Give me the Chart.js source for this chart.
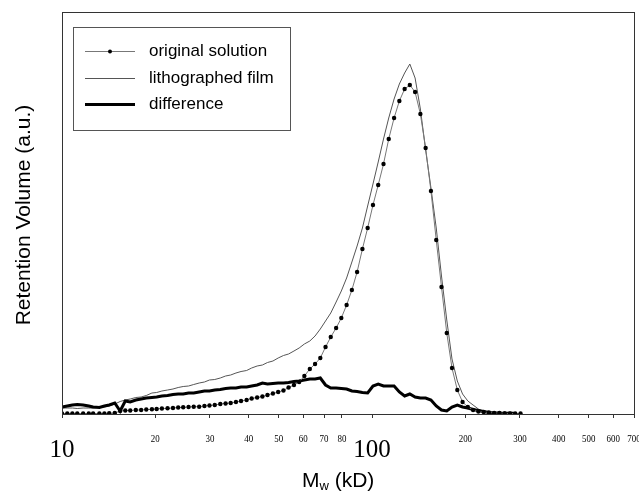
<!DOCTYPE html>
<html>
<head>
<meta charset="utf-8">
<script src="https://cdn.jsdelivr.net/npm/chart.js@4.4.1/dist/chart.umd.min.js"></script>
<style>
  html, body { margin: 0; padding: 0; background: #fff; }
  canvas { display: block; }
</style>
</head>
<body>
<canvas id="gpc" width="639" height="492"></canvas>
<script>
// molecular weight grid (kD)
const mw = [10.0, 10.4, 10.8, 11.2, 11.7, 12.2, 12.6, 13.2, 13.7, 14.2,
    14.8, 15.4, 16.0, 16.6, 17.3, 18.0, 18.7, 19.5, 20.2, 21.0,
    21.9, 22.8, 23.7, 24.6, 25.6, 26.6, 27.7, 28.8, 29.9, 31.1,
    32.4, 33.7, 35.0, 36.4, 37.8, 39.4, 40.9, 42.6, 44.3, 46.0,
    47.9, 49.8, 51.8, 53.8, 56.0, 58.2, 60.5, 63.0, 65.5, 68.1,
    70.8, 73.6, 76.6, 79.6, 82.8, 86.1, 89.5, 93.1, 96.8, 100.7,
    104.7, 108.9, 113.2, 117.8, 122.5, 127.4, 132.4, 137.7, 143.2, 148.9,
    154.9, 161.1, 167.5, 174.2, 181.1, 188.4, 195.9, 203.7, 211.8, 220.3,
    229.1, 238.2, 247.7, 257.6, 267.9, 278.6, 289.7, 301.3];

// retention volume (a.u.)
const originalSolution = [0.5, 0.5, 0.5, 0.5, 0.5, 0.5, 0.5, 0.5, 0.5, 0.7,
    1, 3, 3.5, 3.5, 4, 4, 4.5, 4.7, 5, 5.5,
    5.7, 6, 6.5, 6.7, 7, 7.3, 7.3, 8, 8.5, 9,
    10, 10.5, 11, 12, 13, 14, 15.5, 16.5, 17.5, 19,
    20.5, 22, 23.5, 26.5, 29, 32, 38, 45, 50, 56,
    67, 77, 86, 96, 109, 124, 142, 165, 186, 209,
    229, 250, 275, 296, 313, 325, 329, 322, 300, 266,
    223, 174, 127, 81, 46, 24, 12, 7, 4, 2.5,
    2, 1.5, 1, 1, 0.7, 0.5, 0.5, 0.5];

const lithographedFilm = [6, 6, 6, 5.5, 6, 6, 6, 6.5, 7, 8,
    10, 12.5, 14, 15, 16.5, 17, 18.5, 21, 21.5, 23,
    24, 25, 26.5, 27.5, 28, 29.5, 31, 32, 34, 34.5,
    36, 38, 39, 41, 42.5, 43.5, 46, 48, 49, 51.5,
    53, 56, 58.5, 60, 63, 66, 70, 73, 78, 85,
    93, 101, 112, 123, 136, 152, 168, 186, 208, 230,
    252, 275, 296, 315, 330, 341, 350, 336, 305, 264,
    226, 186, 138, 94, 55, 33, 20, 13, 9, 5,
    2.5, 1, 0.5];

const difference = [7, 8, 9, 9.5, 9, 8, 7, 6.5, 8, 9,
    11, 3, 13, 12, 14, 15, 16, 16.5, 17, 18,
    18.5, 19.5, 20, 20, 21, 21, 22, 23, 23, 24,
    24.5, 25.5, 26, 26, 27, 27, 28, 29, 31, 30,
    30.5, 31, 31, 31.5, 32.5, 33, 34, 35, 35, 36,
    29, 26, 26, 25.5, 25, 23, 22.5, 21.5, 21, 28,
    30, 28, 28, 28, 22, 18, 20, 17, 16, 16,
    14, 8, 4, 3, 7, 9, 7, 6, 4.5, 3.5,
    2.5, 1.5, 1, 1, 0.5, 1, 0.5];

const tickValues = [10, 20, 30, 40, 50, 60, 70, 80, 100, 200, 300, 400, 500, 600, 700];
const bigTicks = [10, 100];
const seriesNames = ['original solution', 'lithographed film', 'difference'];

function toPoints(values) {
    return values.map((v, i) => ({ x: mw[i], y: v }));
}

const overlay = {
    id: 'overlay',
    afterDraw(chart) {
        const ctx = chart.ctx;
        const a = chart.chartArea;
        const x = chart.scales.x;
        ctx.save();

        // plot frame
        ctx.strokeStyle = '#333';
        ctx.lineWidth = 1;
        ctx.strokeRect(a.left + 0.5, a.top + 0.5, a.right - a.left - 1, a.bottom - a.top);

        // tick labels
        ctx.fillStyle = '#000';
        ctx.textAlign = 'center';
        ctx.textBaseline = 'alphabetic';
        tickValues.forEach(v => {
            const px = x.getPixelForValue(v);
            if (bigTicks.includes(v)) {
                ctx.font = '25px "Liberation Serif"';
                ctx.fillText(String(v), px, a.bottom + 43);
            } else {
                ctx.save();
                ctx.translate(px, a.bottom + 28);
                ctx.scale(0.85, 1);
                ctx.font = '10.5px "Liberation Serif"';
                ctx.fillText(String(v), 0, 0);
                ctx.restore();
            }
        });

        // x title with subscript
        ctx.textAlign = 'left';
        ctx.font = '21px "Liberation Sans"';
        let tx = 302;
        const ty = 487;
        ctx.fillText('M', tx, ty);
        tx += ctx.measureText('M').width;
        ctx.font = '13px "Liberation Sans"';
        ctx.fillText('w', tx, ty + 3);
        tx += ctx.measureText('w').width;
        ctx.font = '21px "Liberation Sans"';
        ctx.fillText(' (kD)', tx, ty);

        // y title
        ctx.save();
        ctx.translate(30, (a.top + a.bottom) / 2 + 2);
        ctx.rotate(-Math.PI / 2);
        ctx.textAlign = 'center';
        ctx.font = '21px "Liberation Sans"';
        ctx.fillText('Retention Volume (a.u.)', 0, 0);
        ctx.restore();

        // legend box
        const lx = a.left + 11, ly = a.top + 15;
        ctx.fillStyle = '#fff';
        ctx.fillRect(lx, ly, 217, 103);
        ctx.strokeStyle = '#555';
        ctx.lineWidth = 1;
        ctx.strokeRect(lx + 0.5, ly + 0.5, 217, 103);
        const rows = [ly + 24, ly + 51, ly + 77];
        ctx.font = '17px "Liberation Sans"';
        ctx.textBaseline = 'middle';
        ctx.textAlign = 'left';
        seriesNames.forEach((name, i) => {
            const ds = chart.data.datasets.find(d => d.label === name);
            const y = rows[i];
            ctx.strokeStyle = ds.borderColor;
            ctx.lineWidth = ds.borderWidth;
            ctx.beginPath();
            ctx.moveTo(lx + 12, y + 0.5);
            ctx.lineTo(lx + 62, y + 0.5);
            ctx.stroke();
            if (ds.pointRadius > 0) {
                ctx.fillStyle = '#000';
                ctx.beginPath();
                ctx.arc(lx + 37, y + 0.5, 2, 0, Math.PI * 2);
                ctx.fill();
            }
            ctx.fillStyle = '#000';
            ctx.fillText(name, lx + 76, y);
        });

        ctx.restore();
    }
};

new Chart(document.getElementById('gpc').getContext('2d'), {
    type: 'line',
    data: {
        datasets: [{
            label: seriesNames[0],
            data: toPoints(originalSolution),
            borderColor: '#777',
            borderWidth: 1,
            pointRadius: 2.2,
            pointBackgroundColor: '#000',
            pointBorderWidth: 0,
            tension: 0
        }, {
            label: seriesNames[2],
            data: toPoints(difference),
            borderColor: '#000',
            borderWidth: 3,
            pointRadius: 0,
            tension: 0
        }, {
            label: seriesNames[1],
            data: toPoints(lithographedFilm),
            borderColor: '#555',
            borderWidth: 1,
            pointRadius: 0,
            tension: 0
        }]
    },
    options: {
        responsive: false,
        animation: false,
        layout: { padding: { left: 62, top: 12, right: 2, bottom: 74 } },
        plugins: {
            legend: { display: false },
            tooltip: { enabled: false }
        },
        scales: {
            x: {
                type: 'logarithmic',
                min: 10,
                max: 705,
                afterBuildTicks: scale => {
                    scale.ticks = tickValues.map(v => ({ value: v }));
                },
                ticks: { display: false },
                grid: { drawOnChartArea: false, drawTicks: true, tickLength: 4, color: '#333' },
                border: { display: false }
            },
            y: {
                min: 0,
                max: 402,
                display: false
            }
        }
    },
    plugins: [overlay]
});
</script>
</body>
</html>
